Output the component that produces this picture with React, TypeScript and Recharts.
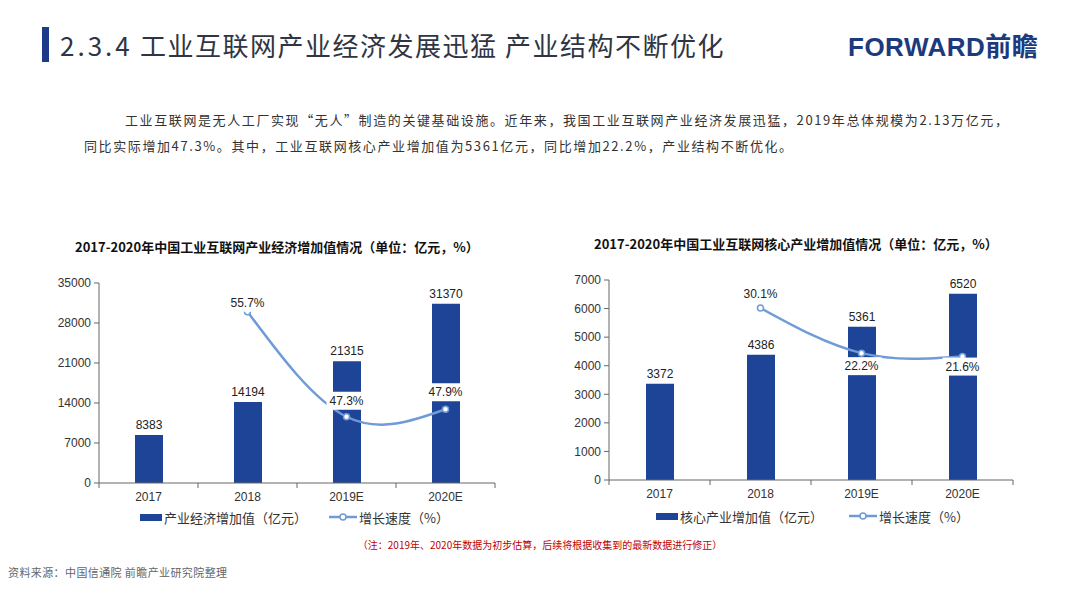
import React from 'react';
import {
  ComposedChart,
  Bar,
  Line,
  XAxis,
  YAxis,
  LabelList,
} from 'recharts';

// 数据
const categories = ['2017', '2018', '2019E', '2020E'];
const economyValue = [8383, 14194, 21315, 31370];
const economyGrowth = [null, 55.7, 47.3, 47.9];
const coreValue = [3372, 4386, 5361, 6520];
const coreGrowth = [null, 30.1, 22.2, 21.6];
const economyTicks = [0, 7000, 14000, 21000, 28000, 35000];
const coreTicks = [0, 1000, 2000, 3000, 4000, 5000, 6000, 7000];

const BAR_COLOR = '#1d4497';
const LINE_COLOR = '#6f9bd8';
const AXIS_COLOR = '#666';
const CJK = '"Noto Sans CJK SC", "Noto Sans", sans-serif';
const NUM = '"Liberation Sans", Arial, sans-serif';

interface ChartProps {
  values: number[];
  growth: (number | null)[];
  ticks: number[];
  rightDomain: [number, number];
  labelDy: number[];
  width: number;
  height: number;
  margin: { top: number; right: number; bottom: number; left: number };
  yWidth: number;
}

const GrowthLabel = (props: any) => {
  const { x, y, value, index, dys } = props;
  if (value == null) return null;
  const cy = y + dys[index];
  return (
    <g>
      <rect x={x - 20} y={cy - 9} width={40} height={18} fill="#fff" />
      <text
        x={x}
        y={cy}
        textAnchor="middle"
        dominantBaseline="central"
        fontSize={12}
        fontFamily={NUM}
        fill="#222"
      >
        {Number(value).toFixed(1) + '%'}
      </text>
    </g>
  );
};

const CategoryTick = (props: any) => {
  const { x, y, payload, index, band, count } = props;
  const half = band / 2;
  return (
    <g>
      <line x1={x - half} y1={y} x2={x - half} y2={y + 5} stroke={AXIS_COLOR} />
      {index === count - 1 && (
        <line x1={x + half} y1={y} x2={x + half} y2={y + 5} stroke={AXIS_COLOR} />
      )}
      <text
        x={x}
        y={y + 14}
        textAnchor="middle"
        dominantBaseline="central"
        fontSize={12}
        fontFamily={NUM}
        fill="#333"
      >
        {payload.value}
      </text>
    </g>
  );
};

const GrowthChart: React.FC<ChartProps> = ({
  values, growth, ticks, rightDomain, labelDy, width, height, margin, yWidth,
}) => {
  const data = categories.map((c, i) => ({ name: c, value: values[i], growth: growth[i] }));
  const plotWidth = width - margin.left - margin.right - yWidth;
  const band = plotWidth / categories.length;
  return (
    <ComposedChart width={width} height={height} data={data} margin={margin}>
      <XAxis
        dataKey="name"
        height={22}
        tickLine={false}
        tickSize={0}
        tickMargin={0}
        axisLine={{ stroke: AXIS_COLOR }}
        interval={0}
        tick={(p: any) => <CategoryTick {...p} band={band} count={categories.length} />}
      />
      <YAxis
        yAxisId="l"
        width={yWidth}
        domain={[ticks[0], ticks[ticks.length - 1]]}
        ticks={ticks}
        interval={0}
        tickSize={5}
        tickMargin={3}
        axisLine={{ stroke: AXIS_COLOR }}
        tickLine={{ stroke: AXIS_COLOR }}
        tick={{ fontSize: 12, fill: '#333', fontFamily: NUM }}
      />
      <YAxis yAxisId="r" orientation="right" hide domain={rightDomain} />
      <Bar yAxisId="l" dataKey="value" fill={BAR_COLOR} barSize={28} isAnimationActive={false}>
        <LabelList
          dataKey="value"
          position="top"
          offset={6}
          style={{ fontSize: 12, fill: '#222', fontFamily: NUM }}
        />
      </Bar>
      <Line
        yAxisId="r"
        type="natural"
        dataKey="growth"
        stroke={LINE_COLOR}
        strokeWidth={2.5}
        dot={{ r: 3, fill: '#fff', stroke: LINE_COLOR, strokeWidth: 1.5 }}
        connectNulls
        isAnimationActive={false}
      >
        <LabelList dataKey="growth" content={(p: any) => <GrowthLabel {...p} dys={labelDy} />} />
      </Line>
    </ComposedChart>
  );
};

const LegendRow: React.FC<{ left: number; top: number; barText: string; lineText: string; gap: number }> = ({
  left, top, barText, lineText, gap,
}) => (
  <div
    style={{
      position: 'absolute',
      left,
      top,
      display: 'flex',
      alignItems: 'center',
      fontFamily: CJK,
      fontSize: 13,
      color: '#333',
      height: 16,
      whiteSpace: 'nowrap',
    }}
  >
    <span style={{ display: 'inline-block', width: 22, height: 7, background: BAR_COLOR, marginRight: 2 }} />
    <span>{barText}</span>
    <svg width={28} height={10} style={{ marginLeft: gap, marginRight: 2 }}>
      <line x1={0} y1={5} x2={28} y2={5} stroke={LINE_COLOR} strokeWidth={2.5} />
      <circle cx={14} cy={5} r={3} fill="#fff" stroke={LINE_COLOR} strokeWidth={1.5} />
    </svg>
    <span>{lineText}</span>
  </div>
);

const abs = (left: number, top: number, extra: React.CSSProperties = {}): React.CSSProperties => ({
  position: 'absolute',
  left,
  top,
  whiteSpace: 'nowrap',
  ...extra,
});

export default function App() {
  return (
    <div
      style={{
        position: 'absolute',
        left: 0,
        top: 0,
        width: 1080,
        height: 595,
        background: '#fff',
        overflow: 'hidden',
        fontFamily: CJK,
      }}
    >
      {/* 页眉 */}
      <div style={abs(42, 27, { width: 7, height: 35, background: '#1c3a8a' })} />
      <div style={abs(60, 27, { fontSize: 26, lineHeight: '36px', color: '#2f3542', letterSpacing: 1.5 })}>
        <span style={{ letterSpacing: 3 }}>2.3.4</span> 工业互联网产业经济发展迅猛 产业结构不断优化
      </div>
      <div style={abs(848, 28, { fontSize: 26, lineHeight: '34px', color: '#1c3a7c', fontWeight: 700, letterSpacing: 0.5 })}>
        <span style={{ fontFamily: NUM }}>FORWARD</span>前瞻
      </div>

      {/* 正文 */}
      <div
        style={{
          position: 'absolute',
          left: 84,
          top: 107,
          width: 960,
          fontSize: 13,
          lineHeight: '26px',
          letterSpacing: 1.6,
          color: '#333',
          whiteSpace: 'nowrap',
        }}
      >
        <div style={{ textIndent: 41 }}>
          工业互联网是无人工厂实现“无人”制造的关键基础设施。近年来，我国工业互联网产业经济发展迅猛，2019年总体规模为2.13万亿元，
        </div>
        <div>同比实际增加47.3%。其中，工业互联网核心产业增加值为5361亿元，同比增加22.2%，产业结构不断优化。</div>
      </div>

      {/* 左图 */}
      <div style={abs(75, 238, { width: 402, textAlign: 'center', fontSize: 13, fontWeight: 700, color: '#111', lineHeight: '18px' })}>
        2017-2020年中国工业互联网产业经济增加值情况（单位：亿元，%）
      </div>
      <div style={abs(40, 265)}>
        <GrowthChart
          values={economyValue}
          growth={economyGrowth}
          ticks={economyTicks}
          rightDomain={[42, 58]}
          labelDy={[0, -9, -16, -17]}
          width={470}
          height={240}
          margin={{ top: 18, right: 15, bottom: 0, left: 9 }}
          yWidth={50}
        />
      </div>
      <LegendRow left={140} top={509} barText="产业经济增加值（亿元）" lineText="增长速度（%）" gap={22} />

      {/* 右图 */}
      <div style={abs(594, 235, { width: 400, textAlign: 'center', fontSize: 13, fontWeight: 700, color: '#111', lineHeight: '18px' })}>
        2017-2020年中国工业互联网核心产业增加值情况（单位：亿元，%）
      </div>
      <div style={abs(555, 262)}>
        <GrowthChart
          values={coreValue}
          growth={coreGrowth}
          ticks={coreTicks}
          rightDomain={[0, 35]}
          labelDy={[0, -14, 13, 10]}
          width={470}
          height={240}
          margin={{ top: 18, right: 12, bottom: 0, left: 9 }}
          yWidth={45}
        />
      </div>
      <LegendRow left={656} top={508} barText="核心产业增加值（亿元）" lineText="增长速度（%）" gap={26} />

      {/* 注释与来源 */}
      <div style={abs(0, 538, { width: 1080, textAlign: 'center', fontSize: 10, color: '#c00000', lineHeight: '14px' })}>
        （注：2019年、2020年数据为初步估算，后续将根据收集到的最新数据进行修正）
      </div>
      <div style={abs(8, 565, { fontSize: 11, color: '#666', letterSpacing: 0.4, lineHeight: '14px' })}>
        资料来源：中国信通院 前瞻产业研究院整理
      </div>
    </div>
  );
}
